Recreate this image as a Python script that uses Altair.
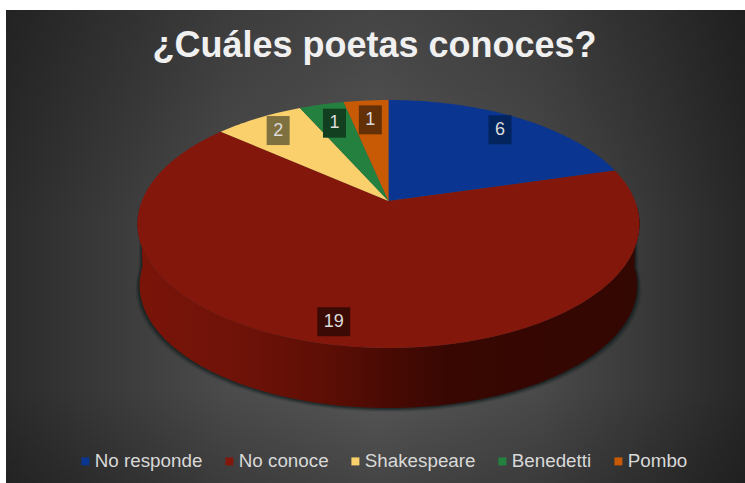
import math
import altair as alt
import pandas as pd

# Survey answers, in the clockwise order of the slices
categories = ["No responde", "No conoce", "Shakespeare", "Benedetti", "Pombo"]
answers = [6, 19, 2, 1, 1]
slice_colors = ["#0a3590", "#84170c", "#f9d06b", "#23803f", "#c85a06"]
box_colors = ["#04245e", "#3c0a05", "#7f7040", "#123f20", "#643008"]
label_reach = [0.84, 0.87, 0.83, 0.78, 0.78]

W, H = 745, 483
CX, CY = 388.5, 201.0      # screen position of the pie's centre
RX, RY, TILT = 246.6, 119.7, 0.1855   # perspective of the top face
DEPTH = 61.5


def project(u, v, drop=0.0):
    """Map a point of the unit disc onto the tilted top face."""
    d = 1 + TILT * v
    return CX + RX * u / d, CY + drop - RY * v / d


def face(start, end):
    """Outline of a slice between two clockwise angles, in degrees."""
    pts = [project(0, 0)]
    n = max(4, int(end - start))
    for i in range(n + 1):
        a = math.radians(start + (end - start) * i / n)
        pts.append(project(math.sin(a), math.cos(a)))
    pts.append(project(0, 0))
    return pd.DataFrame([{"x": x, "y": y, "i": i} for i, (x, y) in enumerate(pts)])


def rim(start, end, drop, shrink=0.0, grow=0.0):
    """Side wall: the front edge of the top face and the same edge lowered."""
    upper, lower = [], []
    for i in range(121):
        a = math.radians(start + (end - start) * i / 120)
        u, v = math.sin(a), math.cos(a)
        upper.append(project(u, v))
        x, y = project(u * (1 - shrink), v * (1 - shrink), drop)
        lower.append((x + (x - CX) / RX * grow, y + grow))
    pts = upper + lower[::-1] + upper[:1]
    return pd.DataFrame([{"x": x, "y": y, "i": i} for i, (x, y) in enumerate(pts)])


X = alt.X("x:Q", scale=alt.Scale(domain=[0, W]), axis=None)
Y = alt.Y("y:Q", scale=alt.Scale(domain=[H, 0]), axis=None)
X2 = alt.X2("x2:Q")
Y2 = alt.Y2("y2:Q")


def polygon(df, fill, **kw):
    return alt.Chart(df).mark_line(fill=fill, strokeWidth=0, **kw).encode(
        x=X, y=Y, order="i:Q"
    )


# Panel background: dark sides, lighter centre, slightly dimmed top and bottom
panel = pd.DataFrame([{"x": 6, "x2": W, "y": 10, "y2": H}])
back = alt.Chart(panel).mark_rect(
    fill=alt.Gradient(
        gradient="linear", x1=0, x2=1, y1=0, y2=0,
        stops=[
            alt.GradientStop(offset=0, color="#2b2b2b"),
            alt.GradientStop(offset=0.14, color="#3a3a3a"),
            alt.GradientStop(offset=0.3, color="#4b4b4b"),
            alt.GradientStop(offset=0.5, color="#565656"),
            alt.GradientStop(offset=0.72, color="#4a4a4a"),
            alt.GradientStop(offset=0.87, color="#383838"),
            alt.GradientStop(offset=1, color="#272727"),
        ],
    )
).encode(x=X, x2=X2, y=Y, y2=Y2)
dim = alt.Chart(panel).mark_rect(
    fill=alt.Gradient(
        gradient="linear", x1=0, x2=0, y1=0, y2=1,
        stops=[
            alt.GradientStop(offset=0, color="rgba(0,0,0,0.2)"),
            alt.GradientStop(offset=0.45, color="rgba(0,0,0,0)"),
            alt.GradientStop(offset=0.8, color="rgba(0,0,0,0)"),
            alt.GradientStop(offset=1, color="rgba(0,0,0,0.2)"),
        ],
    )
).encode(x=X, x2=X2, y=Y, y2=Y2)

# Slice angles, clockwise from twelve o'clock
total = sum(answers)
edges = [0.0]
for value in answers:
    edges.append(edges[-1] + value / total * 360)

# Soft shadow under the wall, then the wall of the big front slice
shadow = [
    polygon(rim(92, 268, DEPTH, 0.008, g), "#101c1c", opacity=o)
    for g, o in [(4, 0.12), (3, 0.2), (2, 0.3), (1, 0.45)]
]
wall = polygon(
    rim(92, 268, DEPTH, 0.008),
    alt.Gradient(
        gradient="linear", x1=0, x2=1, y1=0, y2=0,
        stops=[
            alt.GradientStop(offset=0, color="#7a1409"),
            alt.GradientStop(offset=0.22, color="#6e1208"),
            alt.GradientStop(offset=0.38, color="#5c0e05"),
            alt.GradientStop(offset=0.5, color="#480a03"),
            alt.GradientStop(offset=0.62, color="#380702"),
            alt.GradientStop(offset=1, color="#330702"),
        ],
    ),
)
faces = [
    polygon(face(edges[i], edges[i + 1]), slice_colors[i])
    for i in range(len(answers))
]

# Value labels on dark boxes, placed along each slice's middle angle
rows = []
for i, value in enumerate(answers):
    a = math.radians((edges[i] + edges[i + 1]) / 2)
    r = label_reach[i]
    x, y = project(r * math.sin(a), r * math.cos(a))
    half = 16.5 if value >= 10 else 11.5
    rows.append({
        "answer": categories[i], "value": str(value), "box": box_colors[i],
        "x": x, "y": y, "lx": x - half, "rx": x + half, "ty": y - 14.5, "by": y + 14.5,
    })
labels = pd.DataFrame(rows)

boxes = alt.Chart(labels).mark_rect().encode(
    x=alt.X("lx:Q", scale=alt.Scale(domain=[0, W]), axis=None),
    x2="rx:Q",
    y=alt.Y("ty:Q", scale=alt.Scale(domain=[H, 0]), axis=None),
    y2="by:Q",
    fill=alt.Fill("box:N", scale=None),
)
values = alt.Chart(labels).mark_text(
    font="Liberation Sans", fontSize=18, color="#dcdcdc", baseline="middle"
).encode(x=X, y=Y, text="value:N")

# The legend is fed by small squares hidden under the pie
legend = alt.Chart(labels).mark_square(size=1).encode(
    x=X, y=Y,
    color=alt.Color(
        "answer:N",
        scale=alt.Scale(domain=categories, range=slice_colors),
        legend=alt.Legend(
            title=None, orient="none", legendX=76, legendY=452,
            direction="horizontal", columns=5, gridAlign="none",
            symbolType="square", symbolSize=64, symbolOpacity=1, symbolStrokeWidth=0,
            labelFont="Liberation Sans", labelFontSize=18.8, labelColor="#d9d9d9",
            labelOffset=0, columnPadding=17, symbolOffset=0,
        ),
    ),
)

chart = alt.layer(back, dim, legend, *shadow, wall, *faces, boxes, values).properties(
    width=W, height=H, padding=0, background="white",
    autosize=alt.AutoSizeParams(type="none"),
    title=alt.TitleParams(
        "¿Cuáles poetas conoces?", font="Liberation Sans", fontSize=36, fontWeight="bold",
        color="#f0f0f0", anchor="middle", frame="group", baseline="alphabetic",
        offset=-93, dx=2,
    ),
).configure_view(stroke=None)

chart.save("out.html", embed_options={"renderer": "svg", "actions": False})
